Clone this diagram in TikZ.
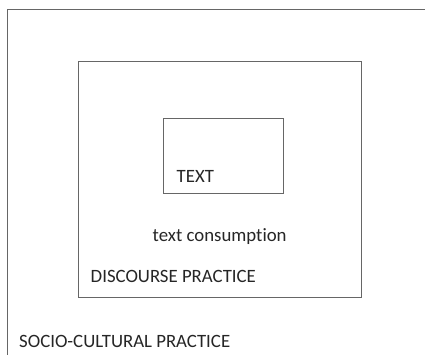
\documentclass[tikz,border=0pt]{standalone}
\usepackage{fontspec}
\setmainfont[Ligatures=NoCommon]{Carlito}
\usetikzlibrary{positioning}

\begin{document}
\begin{tikzpicture}[x=1pt,y=-1pt,
    frame/.style={draw=black!60,line width=1pt},
    label/.style={inner sep=0pt,anchor=base west,text=black!85,font=\fontsize{18.8}{22}\selectfont}]
    \clip (0,0) rectangle (425,355);
    \fill[white] (0,0) rectangle (425,355);
    % the three nested practices
    \draw[frame] (7,10) rectangle (440,370);
    \draw[frame] (78,62) rectangle (361,297);
    \draw[frame] (163,119) rectangle (283,194);
    \node[label] (text) at (176.5,183) {TEXT};
    \node[label] (cons) at (152.5,241.5) {text consumption};
    \node[label] (disc) at (90.5,282) {DISCOURSE PRACTICE};
    \node[label] (socio) at (19,347) {SOCIO-CULTURAL PRACTICE};
\end{tikzpicture}
\end{document}
